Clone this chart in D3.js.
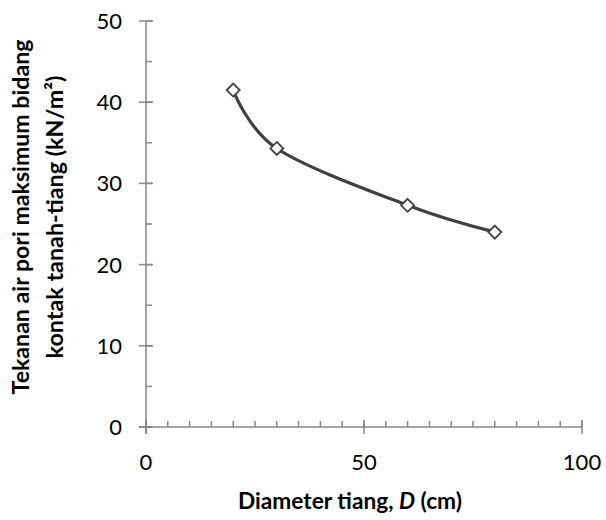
<!DOCTYPE html>
<html><head><meta charset="utf-8">
<script src="https://cdn.jsdelivr.net/npm/d3@7"></script>
<style>body{margin:0;background:#fff}</style>
</head><body><svg id="c" width="606" height="520"></svg>
<script>
const diameters = [20, 30, 60, 80];
const pressures = [41.5, 34.3, 27.3, 24.0];
const xMajorTicks = [0, 50, 100];
const yMajorTicks = [0, 10, 20, 30, 40, 50];
const xTitle = ["Diameter tiang, ", "D", " (cm)"];
const yTitleLines = ["Tekanan air pori maksimum bidang", "kontak tanah-tiang (kN/m²)"];

const svg = d3.select("#c");
const font = "Lato, 'Open Sans', sans-serif";
const x = d3.scaleLinear().domain([0, 100]).range([146, 582]);
const y = d3.scaleLinear().domain([0, 50]).range([427, 21]);
const axisColor = "#868686";

function fit(sel, target) {
  const fs = +sel.attr("font-size");
  const w = sel.node().getComputedTextLength();
  if (w > 0) sel.attr("font-size", fs * target / w);
}

// x axis
const gx = svg.append("g");
gx.selectAll("line.minor").data(d3.range(0, 101, 5)).join("line")
  .attr("x1", d => x(d)).attr("x2", d => x(d)).attr("y1", y(0)).attr("y2", y(0) - 6)
  .attr("stroke", axisColor).attr("stroke-width", 1.5);
gx.selectAll("line.major").data(xMajorTicks).join("line")
  .attr("x1", d => x(d)).attr("x2", d => x(d)).attr("y1", y(0) - 7).attr("y2", y(0) + 7)
  .attr("stroke", axisColor).attr("stroke-width", 1.5);
gx.append("line").attr("x1", x(0) - 7).attr("x2", x(100)).attr("y1", y(0)).attr("y2", y(0))
  .attr("stroke", axisColor).attr("stroke-width", 1.5);
gx.selectAll("text").data(xMajorTicks).join("text")
  .attr("x", d => x(d)).attr("y", y(0) + 43).attr("text-anchor", "middle")
  .attr("font-family", font).attr("font-size", 22).attr("fill", "#000").text(d => d);

// y axis
const gy = svg.append("g");
gy.selectAll("line.minor").data(d3.range(0, 51, 5)).join("line")
  .attr("x1", x(0)).attr("x2", x(0) + 6).attr("y1", d => y(d)).attr("y2", d => y(d))
  .attr("stroke", axisColor).attr("stroke-width", 1.5);
gy.selectAll("line.major").data(yMajorTicks).join("line")
  .attr("x1", x(0) - 7).attr("x2", x(0) + 7).attr("y1", d => y(d)).attr("y2", d => y(d))
  .attr("stroke", axisColor).attr("stroke-width", 1.5);
gy.append("line").attr("x1", x(0)).attr("x2", x(0)).attr("y1", y(0) + 7).attr("y2", y(50))
  .attr("stroke", axisColor).attr("stroke-width", 1.5);
gy.selectAll("text").data(yMajorTicks).join("text")
  .attr("x", 122).attr("y", d => y(d) + 8).attr("text-anchor", "end")
  .attr("font-family", font).attr("font-size", 22).attr("fill", "#000").text(d => d);

// line + markers
const data = diameters.map((d, i) => [d, pressures[i]]);
svg.append("path").datum(data)
  .attr("d", d3.line().x(d => x(d[0])).y(d => y(d[1])).curve(d3.curveCatmullRom.alpha(0)))
  .attr("fill", "none").attr("stroke", "#404040").attr("stroke-width", 3.2);
svg.selectAll("path.pt").data(data).join("path").attr("class", "pt")
  .attr("transform", d => `translate(${x(d[0])},${y(d[1])})`)
  .attr("d", "M0,-6.5L6.5,0L0,6.5L-6.5,0Z")
  .attr("fill", "#fff").attr("stroke", "#404040").attr("stroke-width", 1.8);

// x title
const xt = svg.append("text").attr("x", 350).attr("y", 509)
  .attr("text-anchor", "middle").attr("font-family", font).attr("font-weight", "bold")
  .attr("font-size", 20).attr("fill", "#000");
xTitle.forEach((t, i) => xt.append("tspan").attr("font-style", i === 1 ? "italic" : "normal").text(t));
fit(xt, 224);

// y title
const yTargets = [355, 283];
const yBase = [29, 63];
yTitleLines.forEach((t, i) => {
  const tt = svg.append("text").attr("transform", `translate(${yBase[i]},217) rotate(-90)`)
    .attr("text-anchor", "middle").attr("font-family", font).attr("font-weight", "bold")
    .attr("font-size", 20).attr("fill", "#000").text(t);
  fit(tt, yTargets[i]);
});
</script></body></html>
